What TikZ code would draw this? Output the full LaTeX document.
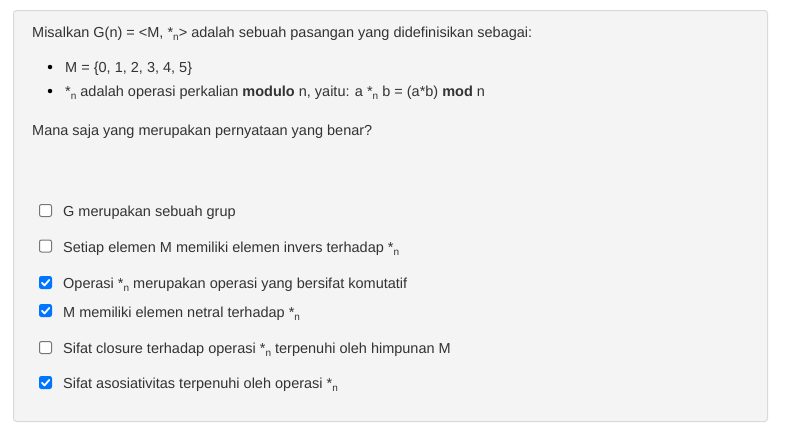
\documentclass[tikz,border=0pt]{standalone}
\usepackage{fontspec}
\setmainfont{Liberation Sans}
\definecolor{panelbg}{HTML}{F4F4F4}
\definecolor{panelbd}{HTML}{D9D9D9}
\definecolor{txt}{HTML}{333333}
\definecolor{chk}{HTML}{0075FF}
\definecolor{unchk}{HTML}{767676}
\newcommand{\nsub}{\raisebox{-0.45ex}{\fontsize{10}{10}\selectfont n}}
\tikzset{
  txtnode/.style={anchor=base west, inner sep=0pt, text=txt, font=\fontsize{14.5}{17}\selectfont},
  boxoff/.style={draw=unchk, fill=white, line width=1pt, rounded corners=2pt, minimum size=12pt, inner sep=0pt},
  boxon/.style={draw=chk, fill=chk, line width=1pt, rounded corners=2pt, minimum size=12pt, inner sep=0pt},
  tick/.style={draw=white, line width=1.8pt, line cap=round, line join=round},
  bulletdot/.style={circle, fill=black, inner sep=0pt, minimum size=4.5pt}
}
\begin{document}
\begin{tikzpicture}[x=1pt,y=-1pt]
\useasboundingbox (0,0) rectangle (788,431);
\fill[white] (0,0) rectangle (788,431);
\draw[draw=panelbd, fill=panelbg, line width=1pt, rounded corners=3pt] (13.5,10.5) rectangle (767.5,421.5) node[coordinate] (panel) {};

\node[txtnode] (intro) at (32,37.5) {Misalkan G(n) = <M, *\nsub> adalah sebuah pasangan yang didefinisikan sebagai:};
\node[bulletdot] (b1) at (50,67) {};
\node[txtnode] (l1) at (65,72) {M = \{0, 1, 2, 3, 4, 5\}};
\node[bulletdot] (b2) at (50,91) {};
\node[txtnode] (l2) at (65,96.5) {*\nsub{} adalah operasi perkalian \textbf{modulo} n, yaitu: a *\nsub{} b = (a*b) \textbf{mod} n};
\node[txtnode] (q) at (32,135.5) {Mana saja yang merupakan pernyataan yang benar?};

% options
\node[boxoff] (c1) at (45.5,210.5) {};
\node[txtnode] (o1) at (63,216.5) {G merupakan sebuah grup};
\node[boxoff] (c2) at (45.5,246) {};
\node[txtnode] (o2) at (63,252) {Setiap elemen M memiliki elemen invers terhadap *\nsub};
\node[boxon] (c3) at (45.5,282.5) {};
\draw[tick] ([shift={(-3.6,0.3)}]c3.center) -- ([shift={(-1,2.9)}]c3.center) -- ([shift={(3.8,-2.6)}]c3.center);
\node[txtnode] (o3) at (63,288.5) {Operasi *\nsub{} merupakan operasi yang bersifat komutatif};
\node[boxon] (c4) at (45.5,310.5) {};
\draw[tick] ([shift={(-3.6,0.3)}]c4.center) -- ([shift={(-1,2.9)}]c4.center) -- ([shift={(3.8,-2.6)}]c4.center);
\node[txtnode] (o4) at (63,317) {M memiliki elemen netral terhadap *\nsub};
\node[boxoff] (c5) at (45.5,347.5) {};
\node[txtnode] (o5) at (63,353.5) {Sifat closure terhadap operasi *\nsub{} terpenuhi oleh himpunan M};
\node[boxon] (c6) at (45.5,382.5) {};
\draw[tick] ([shift={(-3.6,0.3)}]c6.center) -- ([shift={(-1,2.9)}]c6.center) -- ([shift={(3.8,-2.6)}]c6.center);
\node[txtnode] (o6) at (63,388.5) {Sifat asosiativitas terpenuhi oleh operasi *\nsub};
\end{tikzpicture}
\end{document}
